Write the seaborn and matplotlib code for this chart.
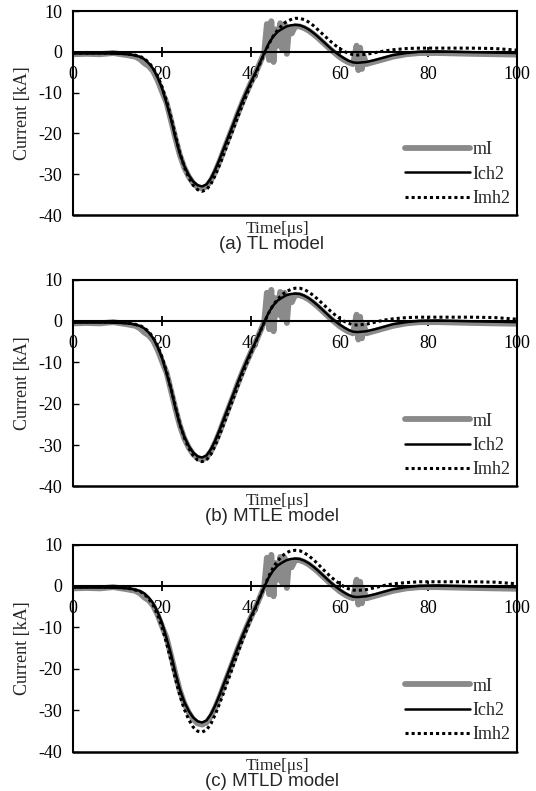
import matplotlib
matplotlib.use("Agg")
import matplotlib.pyplot as plt
import seaborn as sns
import numpy as np

# ---------------- data ----------------
# common time axis for the computed curves [us]
t_calc = [0, 4, 8, 11, 13, 15, 16, 17, 18, 19, 20, 21, 22, 23, 24, 25, 26, 27, 28, 29,
          30, 31, 32, 33, 34, 35, 36, 37, 38, 39, 40, 41, 42, 43, 44, 45, 46, 47, 48, 49,
          50, 51, 52, 53, 54, 55, 56, 57, 58, 59, 60, 61, 62, 63, 64, 66, 68, 70, 72, 75,
          78, 82, 86, 90, 95, 100]

# Ich2 (channel-base current, solid black)
ich2 = [-0.4, -0.4, -0.4, -0.5, -0.7, -1.2, -1.8, -2.8, -4.2, -6.3, -9.0, -12.6, -16.5, -21.0,
        -25.0, -28.0, -30.2, -31.8, -32.7, -33.0, -32.5, -31.0, -28.8, -26.2, -23.4, -20.6,
        -17.8, -15.0, -12.3, -9.8, -7.4, -5.2, -2.8, -0.3, 2.0, 3.7, 4.9, 5.6, 6.2, 6.5,
        6.6, 6.5, 6.1, 5.5, 4.7, 3.8, 2.8, 1.8, 0.8, -0.1, -0.9, -1.6, -2.2, -2.6, -2.7,
        -2.5, -2.0, -1.4, -0.8, -0.3, 0.0, 0.1, 0.0, -0.1, -0.2, -0.3]

# Imh2 (dotted) for the three models
imh2_tl = [-0.3, -0.3, -0.3, -0.4, -0.6, -1.1, -1.7, -2.6, -4.0, -6.0, -8.6, -12.0, -16.0, -20.5,
           -24.8, -28.2, -30.8, -32.7, -33.8, -34.2, -33.8, -32.4, -30.2, -27.6, -24.8, -21.9,
           -19.0, -16.1, -13.3, -10.6, -8.0, -5.5, -3.0, -0.5, 1.8, 3.8, 5.3, 6.5, 7.4, 7.9,
           8.2, 8.2, 7.9, 7.3, 6.5, 5.5, 4.5, 3.5, 2.5, 1.6, 0.8, 0.1, -0.4, -0.7, -0.8,
           -0.6, -0.2, 0.2, 0.5, 0.8, 0.9, 0.9, 0.9, 0.9, 0.8, 0.4]
imh2_mtle = [-0.3, -0.2, -0.3, -0.4, -0.6, -1.1, -1.7, -2.6, -4.0, -6.1, -8.8, -12.3, -16.3, -20.7,
             -24.9, -28.2, -30.7, -32.5, -33.6, -34.0, -33.6, -32.2, -30.0, -27.4, -24.6, -21.7,
             -18.8, -15.9, -13.1, -10.4, -7.8, -5.3, -2.8, -0.4, 1.9, 3.8, 5.2, 6.3, 7.1, 7.6,
             7.9, 7.9, 7.6, 7.0, 6.2, 5.3, 4.3, 3.3, 2.3, 1.4, 0.6, -0.1, -0.6, -0.9, -1.0,
             -0.8, -0.3, 0.2, 0.5, 0.8, 0.9, 0.9, 0.9, 0.9, 0.8, 0.4]
imh2_mtld = [-0.3, -0.2, -0.3, -0.4, -0.7, -1.3, -2.0, -3.1, -4.7, -7.0, -10.0, -13.8, -18.0, -22.4,
             -26.5, -29.8, -32.3, -34.1, -35.1, -35.3, -34.8, -33.3, -31.0, -28.3, -25.4, -22.4,
             -19.4, -16.4, -13.5, -10.7, -8.0, -5.4, -2.8, -0.2, 2.3, 4.4, 6.0, 7.2, 8.0, 8.5,
             8.6, 8.5, 8.0, 7.3, 6.4, 5.4, 4.3, 3.2, 2.2, 1.3, 0.5, -0.2, -0.7, -1.0, -1.1,
             -0.9, -0.4, 0.1, 0.5, 0.8, 1.0, 1.0, 1.0, 1.0, 0.9, 0.5]

# measured current mI (grey, noisy)
t_meas = [0, 3, 6, 9, 12, 14, 15, 16, 17, 18, 19, 20, 21, 22, 23, 24, 25, 26, 27, 28, 29, 30,
          31, 32, 33, 34, 35, 36, 37, 38, 39, 40, 41, 42, 43, 43.6, 44.1, 44.6, 45.1, 45.6,
          46.1, 46.6, 47.1, 47.6, 48.1, 48.6, 49.2, 50, 51, 52, 53, 54, 55, 56, 57, 58, 59,
          60, 61, 62, 63, 63.8, 64.2, 64.6, 65.0, 65.4, 66, 68, 70, 72, 75, 78, 82, 86, 90,
          95, 100]
mi = [-0.6, -0.5, -0.6, -0.3, -0.8, -1.2, -1.8, -2.8, -3.5, -4.8, -7.0, -9.8, -12.5, -16.8,
      -21.2, -25.3, -28.4, -30.6, -32.2, -33.2, -33.5, -33.0, -31.5, -29.3, -26.7, -23.8,
      -21.0, -18.2, -15.3, -12.6, -10.0, -7.6, -5.3, -2.8, -0.2, 6.8, -2.0, 7.5, -2.5, 5.5,
      1.5, 7.0, 0.5, 6.8, -0.5, 6.0, 4.5, 6.3, 6.2, 5.8, 5.2, 4.4, 3.5, 2.5, 1.5, 0.5, -0.4,
      -1.3, -2.0, -2.6, -3.0, 1.5, -4.5, 1.0, -4.2, -1.0, -3.0, -2.4, -1.8, -1.2, -0.6, -0.3,
      -0.3, -0.4, -0.5, -0.6, -0.7]

panel_titles = ["(a) TL model", "(b) MTLE model", "(c) MTLD model"]
imh2_sets = [imh2_tl, imh2_mtle, imh2_mtld]
series_labels = ["mI", "Ich2", "Imh2"]
x_ticks = [0, 20, 40, 60, 80, 100]
y_ticks = [-40, -30, -20, -10, 0, 10]

# ---------------- style ----------------
sns.set_style("white")
plt.rcParams["font.family"] = ["Liberation Serif", "DejaVu Serif"]
plt.rcParams["axes.unicode_minus"] = False

fig = plt.figure(figsize=(5.36, 7.91), dpi=100)

L, W = 73.3 / 536, 444 / 536
# (top_px, bottom_px) of each panel
panel_px = [(11, 215), (279.5, 486.5), (544.5, 751.5)]

serif = ["Liberation Serif", "DejaVu Serif"]
sans = ["Liberation Sans", "DejaVu Sans"]

for k, (top, bot) in enumerate(panel_px):
    ax = fig.add_axes([L, 1 - bot / 791, W, (bot - top) / 791])
    sns.lineplot(x=t_meas, y=mi, ax=ax, color="#8a8a8a", lw=4.2,
                 label=series_labels[0], sort=False, estimator=None)
    sns.lineplot(x=t_calc, y=ich2, ax=ax, color="black", lw=1.8,
                 label=series_labels[1], sort=False, estimator=None)
    sns.lineplot(x=t_calc, y=imh2_sets[k], ax=ax, color="black", lw=2.2,
                 linestyle=(0, (1, 1)), label=series_labels[2], sort=False, estimator=None)

    for s in ["left", "right", "top", "bottom"]:
        ax.spines[s].set_visible(True)
        ax.spines[s].set_color("black")
        ax.spines[s].set_linewidth(1.5)
    ax.spines["bottom"].set_position(("data", 0))
    ax.axhline(-40, color="black", lw=1.8, clip_on=False, zorder=5)

    ax.set_xlim(0, 100)
    ax.set_ylim(-40, 10)
    ax.set_xticks(x_ticks)
    ax.set_yticks(y_ticks)
    ax.set_xticklabels([str(v) for v in x_ticks])
    ax.set_yticklabels([str(v) for v in y_ticks])

    ax.tick_params(axis="x", direction="inout", length=7, width=1.3, pad=7,
                   colors="black", bottom=True, labelsize=13)
    ax.tick_params(axis="y", direction="in", length=4, width=1.0, pad=8,
                   colors="black", left=True, labelsize=13)

    ax.set_ylabel("Current [kA]", family=serif, fontsize=13, va="center")
    ax.yaxis.set_label_coords(-0.1155, 0.5)
    ax.set_xlabel("Time[\u03bcs]", family=serif, fontsize=12.5, va="center")
    ax.xaxis.set_label_coords(0.46, -0.068)

    ax.text(0.447, -0.143, panel_titles[k], transform=ax.transAxes, ha="center",
            va="center", family=sans, fontsize=13.5)

    ax.legend(loc="lower right", bbox_to_anchor=(0.985, 0.04), frameon=False,
              prop={"family": serif, "size": 13}, handlelength=3.6,
              handletextpad=0.15, labelspacing=0.4, borderpad=0, borderaxespad=0)

fig.savefig("out.png", dpi=100)
